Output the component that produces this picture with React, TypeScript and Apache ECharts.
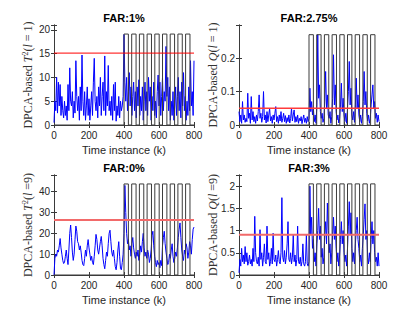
import React, { useEffect, useRef } from 'react';
import * as echarts from 'echarts';

// sample spacing of the read-off values (time instance k = 0, 5, 10, ..., 800)
const STEP = 5;

const t2L1 = [
  0.5, 5, 3, 10, 2.5, 9, 4, 8.5, 2, 6, 3, 1.5, 5, 2, 4, 1, 8.5, 3, 12, 5,
  4, 7, 1.5, 5, 2.5, 13.5, 6, 3, 6, 1, 8, 3, 14.7, 5, 2, 7, 1, 4, 8, 2,
  5.5, 1, 4, 7, 2, 9, 14, 5, 3, 6, 1.5, 8, 4, 10, 2, 6, 9, 3, 14.5, 2,
  7, 4, 12.5, 3, 5, 2, 6, 1, 8.5, 3, 9, 0.8, 4, 2, 6, 1.5, 5, 3, 4, 6,
  19, 9, 5, 10, 3, 7, 11, 4, 8, 2, 6, 9, 3, 7, 1.5, 8, 4, 9.5, 2, 6,
  3, 8, 1, 5, 9, 3, 7, 2, 10, 5, 8, 1, 6, 3, 9, 2, 5, 1.5, 7, 10.5,
  4, 9, 2, 6, 10, 3, 7, 5, 16.5, 6, 10, 3, 8, 1, 5, 2, 7, 1, 4, 8,
  2, 6, 10, 3, 7, 1.5, 9, 4, 11, 3, 6, 1, 5, 2, 8, 3, 13.5, 4, 7, 2, 13.5,
];

const qL1 = [
  0.04, 0.01, 0.03, 0.005, 0.07, 0.015, 0.03, 0.008, 0.02, 0.01, 0.095, 0.02, 0.035, 0.005, 0.085, 0.015, 0.04, 0.01, 0.025, 0.005,
  0.03, 0.012, 0.04, 0.09, 0.02, 0.035, 0.008, 0.025, 0.1, 0.015, 0.03, 0.006, 0.04, 0.01, 0.03, 0.05, 0.012, 0.025, 0.005, 0.03,
  0.015, 0.035, 0.055, 0.01, 0.025, 0.005, 0.03, 0.012, 0.04, 0.008, 0.02, 0.035, 0.01, 0.028, 0.005, 0.022, 0.01, 0.03, 0.006, 0.02,
  0.05, 0.012, 0.03, 0.045, 0.008, 0.025, 0.01, 0.03, 0.005, 0.02, 0.012, 0.025, 0.004, 0.018, 0.03, 0.008, 0.02, 0.005, 0.025, 0.01,
  0.02, 0.11, 0.04, 0.07, 0.03, 0.05, 0.01, 0.03, 0.005, 0.06, 0.27, 0.08, 0.12, 0.04, 0.02, 0.035, 0.008, 0.02, 0.07, 0.16,
  0.05, 0.09, 0.03, 0.02, 0.04, 0.005, 0.025, 0.08, 0.21, 0.06, 0.12, 0.04, 0.015, 0.03, 0.006, 0.02, 0.06, 0.125, 0.04, 0.08,
  0.03, 0.01, 0.035, 0.005, 0.05, 0.1, 0.19, 0.06, 0.11, 0.03, 0.015, 0.04, 0.008, 0.06, 0.14, 0.05, 0.09, 0.03, 0.01, 0.03,
  0.005, 0.025, 0.07, 0.16, 0.06, 0.1, 0.035, 0.012, 0.03, 0.005, 0.02, 0.06, 0.09, 0.12, 0.05, 0.07, 0.02, 0.035, 0.008, 0.03, 0.01,
];

const t2L9 = [
  0, 8, 10, 9, 12, 11, 14, 17.5, 13, 10, 7, 5.5, 6, 9, 12, 8, 5, 12, 20, 24,
  18, 11, 7, 10, 17, 23.5, 21, 16, 15, 12, 14, 11, 7, 5, 4.5, 8, 12, 9, 14, 17,
  13, 10, 7, 9, 6, 5, 9, 14, 19.5, 17, 12, 10, 13, 16, 18.5, 14, 8, 5, 3, 7,
  11, 9, 15, 20, 21.5, 16, 11, 9, 12, 8, 4, 2.5, 6, 12, 16, 9, 3, 2.5, 6, 10,
  20, 43, 30, 20, 15, 17, 12, 14, 9, 15, 18, 13, 10, 8, 11, 9, 12, 7, 10, 14,
  11, 16, 20, 13, 9, 11, 8, 12, 10, 6, 8, 12, 19, 21, 14, 9, 6, 4, 7, 5,
  6, 3.5, 7, 4.5, 14, 18, 21, 15, 11, 8, 5, 6, 10, 8, 12, 15, 9, 6, 8, 11,
  9, 13, 18, 22, 25, 18, 12, 9, 7, 12, 10, 15, 13, 8, 11, 16, 14, 10, 17, 22, 23,
];

const qL9 = [
  0.05, 0.35, 0.2, 0.6, 0.3, 0.45, 0.25, 0.64, 0.3, 0.5, 0.22, 0.3, 0.45, 0.25, 0.35, 0.2, 0.6, 0.3, 1.32, 0.5,
  0.3, 0.25, 0.4, 0.2, 1.02, 0.35, 0.5, 0.2, 0.4, 0.7, 0.3, 0.25, 1.1, 0.35, 0.5, 0.2, 0.3, 0.6, 0.25, 0.94,
  0.35, 0.3, 0.45, 0.2, 0.35, 0.55, 0.3, 0.25, 0.5, 1.74, 0.4, 0.3, 0.55, 0.25, 0.4, 0.7, 1.2, 0.35, 0.3, 0.5,
  0.25, 0.4, 0.9, 0.3, 0.45, 0.2, 0.35, 1.1, 0.3, 0.25, 0.4, 0.2, 0.3, 0.7, 0.25, 0.2, 0.3, 0.9, 0.25, 0.2,
  0.3, 2.0, 0.9, 1.3, 0.6, 0.8, 0.3, 0.5, 0.2, 0.7, 1.0, 1.5, 0.8, 1.1, 0.4, 0.6, 0.25, 0.4, 0.9, 1.2,
  0.7, 1.62, 1.0, 0.5, 0.7, 0.25, 0.5, 0.9, 1.3, 0.8, 1.1, 0.6, 0.3, 0.5, 0.2, 0.45, 0.8, 1.2, 0.7, 1.0,
  0.5, 0.3, 0.45, 0.2, 0.6, 1.1, 1.65, 0.9, 1.4, 0.6, 0.3, 0.5, 0.25, 0.7, 1.0, 1.3, 0.8, 0.6, 0.3, 0.45,
  0.2, 0.6, 0.9, 1.25, 1.6, 0.8, 1.0, 0.4, 0.25, 0.5, 0.3, 0.8, 1.2, 0.7, 1.0, 0.5, 0.3, 0.4, 0.2, 0.5, 0.2,
];

const seriesValues = [t2L1, qL1, t2L9, qL9];
const thresholds = [15.1, 0.05, 26.4, 0.905];
const pulseStarts = [400, 444, 488, 532, 576, 620, 664, 708, 752];
const pulseWidth = 25;
const pulseHeights = [19.1, 0.27, 43.7, 2.05];
const titles = ['FAR:1%', 'FAR:2.75%', 'FAR:0%', 'FAR:3%'];
const yMax = [21, 0.299, 48, 2.25];
const yInterval = [5, 0.1, 10, 0.5];
const xMin = 0;
const xMax = 800;
const xInterval = 200;
const xName = 'Time instance (k)';
const yNames = [
  '{r|DPCA-based }{i|T}{s|2}{r|(}{i|l}{r| = 1)}',
  '{r|DPCA-based }{i|Q}{r|(}{i|l}{r| = 1)}',
  '{r|DPCA-based }{i|T}{s|2}{r|(}{i|l}{r| =9)}',
  '{r|DPCA-based }{i|Q}{r|(}{i|l}{r| =9)}',
];
const redStyles = [
  { color: '#ff0000', width: 1 },
  { color: '#ff3b3b', width: 1.5 },
  { color: '#f26a6a', width: 2 },
  { color: '#f26a6a', width: 2 },
];

const gridLefts = [54, 239, 54, 239];
const gridTops = [25, 25, 175, 175];
const GW = 140;
const GH = 100;
const yNameOffset = 26; // distance from the y axis line to the centre of its name

const TXT = '#262626';
const AX = '#3a3a3a';
const SANS = '"Liberation Sans", Arial, Helvetica, sans-serif';
const SERIF = '"Liberation Serif", "Times New Roman", serif';

const nameRich = {
  r: { fontFamily: SERIF, fontSize: 12, fill: '#333', lineHeight: 14 },
  i: { fontFamily: SERIF, fontSize: 12, fontStyle: 'italic', fill: '#333', lineHeight: 14 },
  s: { fontFamily: SERIF, fontSize: 8, fill: '#333', verticalAlign: 'top', lineHeight: 8 },
};

function squareWave(h: number): number[][] {
  const pts: number[][] = [[xMin, 0]];
  pulseStarts.forEach((s) => {
    pts.push([s, 0], [s, h], [s + pulseWidth, h], [s + pulseWidth, 0]);
  });
  pts.push([xMax, 0]);
  return pts;
}

function labelFmt(iv: number) {
  return (v: number) => {
    const r = v / iv;
    if (Math.abs(r - Math.round(r)) > 1e-6) return '';
    return String(parseFloat(v.toFixed(3)));
  };
}

export default function App() {
  const ref = useRef<HTMLDivElement>(null);
  useEffect(() => {
    if (!ref.current) return;
    const chart = echarts.init(ref.current, undefined, { renderer: 'svg' });
    const grid: any[] = [];
    const xAxis: any[] = [];
    const yAxis: any[] = [];
    const series: any[] = [];
    const title: any[] = [];
    const graphic: any[] = [];
    for (let i = 0; i < 4; i++) {
      grid.push({ left: gridLefts[i], top: gridTops[i], width: GW, height: GH, containLabel: false });
      title.push({
        text: titles[i],
        left: gridLefts[i] + GW / 2,
        top: gridTops[i] - 13,
        textAlign: 'center',
        padding: 0,
        textStyle: { fontFamily: SANS, fontSize: 11, fontWeight: 'bold', color: '#000' },
      });
      graphic.push({
        type: 'text',
        x: gridLefts[i] - yNameOffset,
        y: gridTops[i] + GH / 2,
        rotation: Math.PI / 2,
        style: {
          text: yNames[i],
          rich: nameRich,
          align: 'center',
          verticalAlign: 'middle',
          fill: '#333',
        },
      });
      const commonX = {
        type: 'value', gridIndex: i, min: xMin, max: xMax, interval: xInterval,
        splitLine: { show: false },
        axisLine: { show: true, lineStyle: { color: AX, width: 1 } },
        axisTick: { show: true, inside: true, length: 3, lineStyle: { color: AX } },
      };
      xAxis.push({
        ...commonX, position: 'bottom',
        axisLabel: { show: true, fontFamily: SANS, fontSize: 10, color: TXT, margin: 5 },
        name: xName, nameLocation: 'middle', nameGap: 19,
        nameTextStyle: { fontFamily: SANS, fontSize: 11, color: TXT },
      });
      xAxis.push({ ...commonX, position: 'top', axisLabel: { show: false } });
      const commonY = {
        type: 'value', gridIndex: i, min: 0, max: yMax[i], interval: yInterval[i],
        splitLine: { show: false },
        axisLine: { show: true, lineStyle: { color: AX, width: 1 } },
        axisTick: { show: true, inside: true, length: 3, lineStyle: { color: AX } },
      };
      yAxis.push({
        ...commonY, position: 'left',
        axisLabel: { show: true, fontFamily: SANS, fontSize: 10, color: TXT, margin: 4, formatter: labelFmt(yInterval[i]) },
      });
      yAxis.push({ ...commonY, position: 'right', axisLabel: { show: false } });
      const xi = i * 2;
      const yi = i * 2;
      series.push({
        type: 'line', xAxisIndex: xi, yAxisIndex: yi, showSymbol: false, symbol: 'none',
        data: seriesValues[i].map((v, j) => [j * STEP, v]),
        lineStyle: { color: '#0000ff', width: 1 }, z: 2,
      });
      series.push({
        type: 'line', xAxisIndex: xi, yAxisIndex: yi, showSymbol: false, symbol: 'none',
        data: squareWave(pulseHeights[i]),
        lineStyle: { color: '#3c3c3c', width: 1 }, z: 3,
      });
      series.push({
        type: 'line', xAxisIndex: xi, yAxisIndex: yi, showSymbol: false, symbol: 'none',
        data: [[xMin, thresholds[i]], [xMax, thresholds[i]]],
        lineStyle: redStyles[i], z: 4,
      });
    }
    chart.setOption({
      animation: false,
      backgroundColor: '#ffffff',
      title, grid, xAxis, yAxis, series, graphic,
    });
    return () => chart.dispose();
  }, []);
  return (
    <div
      ref={ref}
      style={{ position: 'fixed', left: 0, top: 0, width: 420, height: 315, background: '#fff' }}
    />
  );
}
